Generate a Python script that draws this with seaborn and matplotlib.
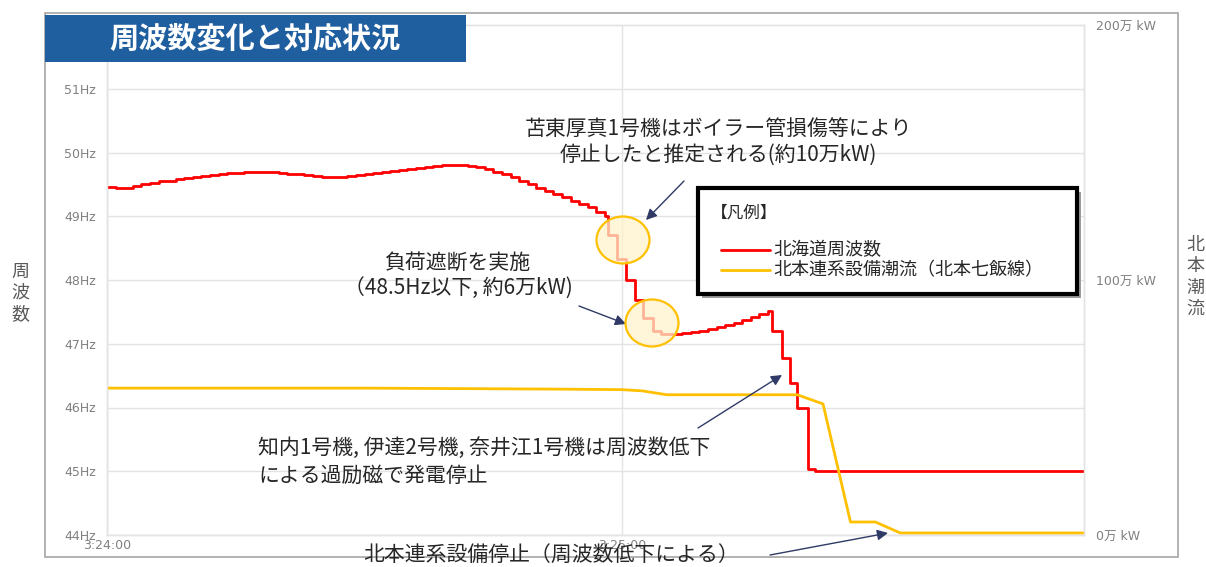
import numpy as np
import pandas as pd
import matplotlib.pyplot as plt
import seaborn as sns
from matplotlib.patches import Rectangle, Ellipse
from matplotlib.lines import Line2D

# seconds after 3:24:00
freq_t = [0, 1, 2, 3, 4, 5, 6, 7, 8, 9, 10, 11, 12, 13, 14, 15, 16, 17, 18, 19,
          20, 21, 22, 23, 24, 25, 26, 27, 28, 29, 30, 31, 32, 33, 34, 35, 36, 37,
          38, 39, 40, 41, 42, 43, 44, 45, 46, 47, 48, 49, 50, 51, 52, 53, 54, 55,
          56, 57, 58, 58.4, 59.4, 60.5, 61.5, 62.4, 63.6, 64.5, 66, 67, 68, 69,
          70, 71, 72, 73, 74, 75, 76, 77, 77.5, 78.6, 79.6, 80.4, 81.6, 82.5, 113.8]
freq_hz = [49.46, 49.45, 49.45, 49.47, 49.50, 49.52, 49.55, 49.56, 49.58, 49.60,
           49.61, 49.63, 49.65, 49.66, 49.68, 49.68, 49.69, 49.70, 49.70, 49.69,
           49.68, 49.67, 49.66, 49.65, 49.63, 49.62, 49.61, 49.61, 49.63, 49.64,
           49.66, 49.68, 49.69, 49.71, 49.72, 49.74, 49.76, 49.77, 49.79, 49.80,
           49.80, 49.80, 49.79, 49.77, 49.74, 49.70, 49.66, 49.61, 49.55, 49.50,
           49.44, 49.40, 49.35, 49.30, 49.24, 49.19, 49.14, 49.07, 49.00, 48.70,
           48.33, 48.00, 47.68, 47.41, 47.20, 47.15, 47.15, 47.17, 47.19, 47.20,
           47.23, 47.26, 47.30, 47.33, 47.37, 47.42, 47.47, 47.52, 47.20, 46.78,
           46.38, 45.99, 45.03, 45.00, 45.00]

flow_t = [0, 30, 52.8, 60, 62.4, 65.2, 80.4, 83.4, 86.6, 89.5, 92.4, 113.8]
flow_man_kw = [57.6, 57.6, 57.2, 57.0, 56.5, 55.0, 55.0, 51.4, 5.1, 5.1, 0.8, 0.8]

hz_ticks = [44, 45, 46, 47, 48, 49, 50, 51]
kw_ticks = [0, 100, 200]
time_ticks = [0, 60]
time_labels = ["3:24:00", "3:25:00"]

sns.set_theme(style="white")
plt.rcParams["font.family"] = ["Noto Sans CJK JP", "DejaVu Sans"]

W, H = 1206, 567
fig = plt.figure(figsize=(W / 100, H / 100), dpi=100)


def P(x, y):
    # pixel position -> figure fraction
    return (x / W, 1 - y / H)


ax = fig.add_axes([107 / W, 1 - 535 / H, (1084 - 107) / W, (535 - 25) / H])
ax2 = ax.twinx()

grid_c = "#E3E3E3"
tick_c = "#808080"
tick_font = ["DejaVu Sans", "Noto Sans CJK JP"]

df_f = pd.DataFrame({"t": freq_t, "hz": freq_hz})
df_w = pd.DataFrame({"t": flow_t, "kw": flow_man_kw})
sns.lineplot(data=df_f, x="t", y="hz", ax=ax, color="#FF0000", lw=2,
             drawstyle="steps-post", zorder=3)
sns.lineplot(data=df_w, x="t", y="kw", ax=ax2, color="#FFC000", lw=2)

ax.set_xlim(0, 113.8)
ax.set_ylim(44, 52)
ax2.set_ylim(0, 200)
ax.set_yticks(hz_ticks)
ax.set_yticklabels([f"{v}Hz" for v in hz_ticks], family=tick_font)
ax2.set_yticks(kw_ticks)
ax2.set_yticklabels([f"{v}万 kW" for v in kw_ticks], family=tick_font)
ax.set_xticks(time_ticks)
ax.set_xticklabels(time_labels, family=tick_font)
for a in (ax, ax2):
    a.set_xlabel("")
    a.set_ylabel("")
    for s in a.spines.values():
        s.set_color(grid_c)
        s.set_linewidth(1)
ax.tick_params(axis="y", length=0, pad=8, labelsize=9, labelcolor=tick_c)
ax.tick_params(axis="x", length=0, pad=3, labelsize=9, labelcolor=tick_c)
ax2.tick_params(axis="y", length=0, pad=9, labelsize=9, labelcolor=tick_c)
ax.grid(True, color=grid_c, lw=1)
ax2.grid(False)

# axis titles (vertical)
fig.text(*P(20, 293), "周\n波\n数", ha="center", va="center", fontsize=13,
         color="#595959", linespacing=1.25)
fig.text(*P(1195, 277), "北\n本\n潮\n流", ha="center", va="center", fontsize=13,
         color="#595959", linespacing=1.25)

# outer frame
fig.patches.append(Rectangle(P(45, 557), (1178 - 45) / W, (557 - 13) / H,
                             transform=fig.transFigure, fill=False,
                             edgecolor="#A6A6A6", lw=1.2, zorder=1))
# title box
fig.patches.append(Rectangle(P(45, 62), (466 - 45) / W, (62 - 15) / H,
                             transform=fig.transFigure, facecolor="#1F5E9F",
                             edgecolor="none", zorder=2))
fig.text(*P(255, 39), "周波数変化と対応状況", ha="center", va="center",
         fontsize=21, fontweight="bold", color="white", zorder=3)

# highlight circles
for cx, cy in [(623, 240), (652, 323)]:
    fig.patches.append(Ellipse(P(cx, cy), 53 / W, 47 / H, transform=fig.transFigure,
                               facecolor="#FFF2CC", alpha=0.75, edgecolor="none",
                               zorder=2))
    fig.patches.append(Ellipse(P(cx, cy), 53 / W, 47 / H, transform=fig.transFigure,
                               fill=False, edgecolor="#FFC000", lw=1.6, zorder=2))

# legend box
fig.patches.append(Rectangle(P(702, 298), (1077 - 698) / W, (294 - 188) / H,
                             transform=fig.transFigure, facecolor="#9A9A9A",
                             edgecolor="none", zorder=4))
fig.patches.append(Rectangle(P(698, 294), (1077 - 698) / W, (294 - 188) / H,
                             transform=fig.transFigure, facecolor="white",
                             edgecolor="black", lw=3, zorder=5))
fig.text(*P(711, 213), "【凡例】", ha="left", va="center", fontsize=12,
         color="#262626", zorder=6)
for yy, col, lab in [(250, "#FF0000", "北海道周波数"),
                     (270, "#FFC000", "北本連系設備潮流（北本七飯線）")]:
    fig.lines.append(Line2D([P(721, yy)[0], P(770, yy)[0]], [P(0, yy)[1]] * 2,
                            transform=fig.transFigure, color=col, lw=2, zorder=6))
    fig.text(*P(773, yy), lab, ha="left", va="center", fontsize=13,
             color="#262626", zorder=6)

# annotations
txt_c = "#262626"
arr = dict(arrowstyle="-|>", color="#2F3A66", lw=1, mutation_scale=16,
           shrinkA=0, shrinkB=0)
fig.text(*P(718, 142), "苫東厚真1号機はボイラー管損傷等により\n停止したと推定される(約10万kW)",
         ha="center", va="center", fontsize=15, color=txt_c, linespacing=1.25)
fig.text(*P(458, 276), "負荷遮断を実施\n（48.5Hz以下, 約6万kW)",
         ha="center", va="center", fontsize=15, color=txt_c, linespacing=1.25)
fig.text(*P(258, 462), "知内1号機, 伊達2号機, 奈井江1号機は周波数低下\nによる過励磁で発電停止",
         ha="left", va="center", fontsize=15, color=txt_c, linespacing=1.35)
fig.text(*P(551, 555), "北本連系設備停止（周波数低下による）",
         ha="center", va="center", fontsize=15, color=txt_c)

for (x0, y0), (x1, y1) in [((684, 181), (646, 220)), ((579, 306), (626, 324)),
                           ((698, 428), (782, 375)), ((770, 555), (888, 533))]:
    ax2.annotate("", xy=P(x1, y1), xytext=P(x0, y0), xycoords="figure fraction",
                 textcoords="figure fraction", arrowprops=arr)

fig.savefig("out.png", dpi=100)
